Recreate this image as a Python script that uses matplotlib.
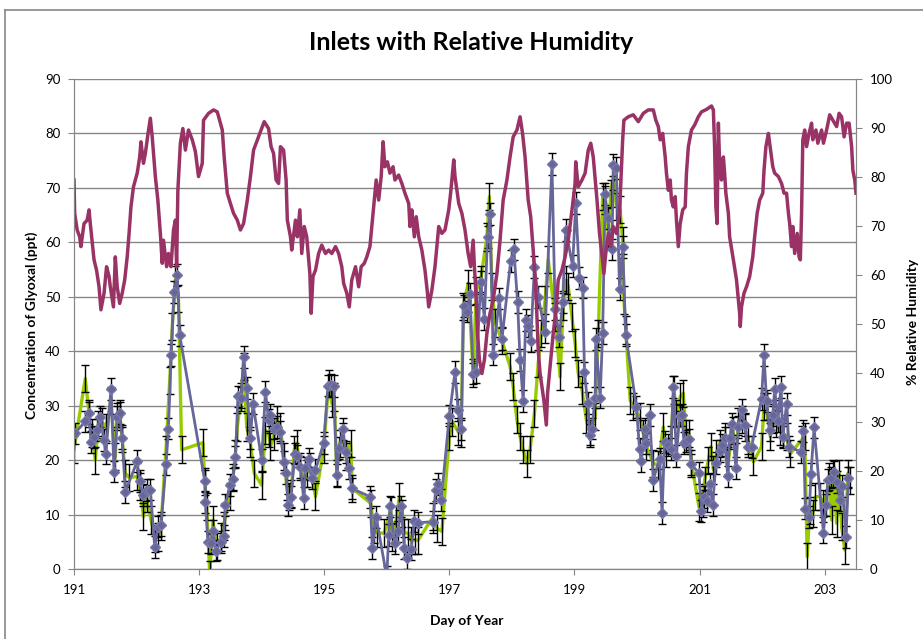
import matplotlib
matplotlib.use("Agg")
import matplotlib.pyplot as plt
from matplotlib.lines import Line2D

plt.rcParams["font.family"] = ["Lato", "DejaVu Sans"]

# % relative humidity (right axis)
rh_day = [191.00, 191.01, 191.05, 191.09, 191.11, 191.16, 191.21, 191.24, 191.26, 191.32,
          191.36, 191.40, 191.43, 191.48, 191.52, 191.56, 191.58, 191.63, 191.66, 191.69,
          191.73, 191.77, 191.81, 191.85, 191.88, 191.91, 191.95, 192.01, 192.05, 192.07,
          192.11, 192.14, 192.18, 192.22, 192.25, 192.30, 192.34, 192.38, 192.41, 192.43,
          192.48, 192.51, 192.55, 192.59, 192.62, 192.64, 192.66, 192.70, 192.74, 192.78,
          192.83, 192.89, 192.94, 192.99, 193.05, 193.07, 193.15, 193.23, 193.29, 193.37,
          193.40, 193.45, 193.50, 193.55, 193.61, 193.66, 193.71, 193.77, 193.82, 193.87,
          193.95, 194.04, 194.11, 194.15, 194.19, 194.23, 194.27, 194.30, 194.35, 194.39,
          194.41, 194.46, 194.48, 194.54, 194.57, 194.61, 194.64, 194.68, 194.72, 194.77,
          194.79, 194.82, 194.86, 194.91, 194.96, 195.02, 195.07, 195.12, 195.18, 195.23,
          195.28, 195.31, 195.36, 195.40, 195.44, 195.50, 195.55, 195.59, 195.64, 195.68,
          195.73, 195.76, 195.79, 195.83, 195.87, 195.91, 195.94, 195.97, 196.01, 196.05,
          196.10, 196.13, 196.19, 196.24, 196.29, 196.35, 196.37, 196.40, 196.44, 196.47,
          196.51, 196.56, 196.61, 196.65, 196.67, 196.72, 196.77, 196.83, 196.88, 196.93,
          196.99, 197.02, 197.07, 197.09, 197.15, 197.20, 197.25, 197.30, 197.34, 197.38,
          197.40, 197.43, 197.45, 197.48, 197.52, 197.56, 197.60, 197.65, 197.70, 197.76,
          197.81, 197.86, 197.92, 197.97, 198.02, 198.08, 198.13, 198.17, 198.21, 198.26,
          198.30, 198.34, 198.39, 198.42, 198.45, 198.48, 198.51, 198.55, 198.57, 198.61,
          198.66, 198.71, 198.74, 198.80, 198.85, 198.90, 198.96, 199.01, 199.02, 199.06,
          199.12, 199.17, 199.22, 199.26, 199.30, 199.36, 199.40, 199.43, 199.47, 199.50,
          199.54, 199.58, 199.62, 199.67, 199.72, 199.74, 199.77, 199.79, 199.86, 199.94,
          200.02, 200.10, 200.18, 200.26, 200.30, 200.34, 200.37, 200.41, 200.45, 200.47,
          200.50, 200.53, 200.55, 200.58, 200.61, 200.63, 200.66, 200.69, 200.73, 200.77,
          200.79, 200.82, 200.87, 200.92, 200.98, 201.03, 201.11, 201.19, 201.22, 201.24,
          201.26, 201.28, 201.30, 201.32, 201.35, 201.38, 201.40, 201.42, 201.46, 201.48,
          201.54, 201.59, 201.62, 201.64, 201.65, 201.67, 201.71, 201.75, 201.80, 201.85,
          201.88, 201.92, 201.96, 202.01, 202.03, 202.06, 202.10, 202.12, 202.17, 202.20,
          202.26, 202.31, 202.35, 202.39, 202.42, 202.44, 202.47, 202.49, 202.52, 202.56,
          202.59, 202.61, 202.63, 202.65, 202.68, 202.71, 202.75, 202.79, 202.81, 202.86,
          202.89, 202.95, 202.98, 203.03, 203.08, 203.13, 203.19, 203.23, 203.27, 203.31,
          203.35, 203.39, 203.43, 203.45, 203.48, 203.50]
rh_pct = [79.4, 72.6, 69.2, 67.8, 65.8, 70.5, 71.2, 73.3, 70.5, 63.1,
          61.0, 57.6, 52.9, 56.3, 61.7, 59.7, 57.6, 53.5, 63.7, 57.6,
          54.2, 56.3, 59.0, 63.7, 68.5, 73.9, 78.0, 80.8, 84.1, 87.2,
          82.8, 84.8, 88.6, 92.0, 88.2, 80.1, 75.3, 68.5, 62.4, 67.1,
          61.7, 64.4, 61.7, 69.2, 71.2, 61.7, 77.3, 86.9, 89.9, 85.5,
          89.6, 87.6, 85.2, 80.1, 82.8, 91.6, 93.0, 93.7, 93.3, 89.6,
          84.1, 76.7, 74.6, 72.6, 71.2, 69.2, 70.5, 75.3, 80.1, 85.5,
          88.2, 91.3, 89.9, 86.2, 84.8, 79.4, 78.7, 86.2, 85.5, 79.4,
          71.2, 67.8, 65.1, 71.2, 67.8, 73.3, 64.4, 69.9, 67.8, 60.3,
          52.2, 59.7, 61.0, 64.4, 66.1, 64.4, 65.1, 64.4, 65.8, 64.4,
          61.7, 58.3, 56.3, 53.5, 59.0, 61.7, 57.6, 61.7, 62.4, 63.7,
          65.8, 69.9, 73.9, 79.4, 75.3, 80.1, 87.2, 82.1, 83.1, 80.8,
          82.1, 79.4, 80.4, 78.7, 76.7, 74.6, 69.9, 73.3, 67.8, 71.9,
          67.8, 65.1, 61.0, 56.3, 53.5, 56.9, 61.7, 69.9, 68.5, 69.2,
          73.3, 76.7, 83.5, 80.1, 74.6, 72.6, 69.2, 64.4, 61.7, 67.1,
          61.7, 54.9, 48.1, 42.7, 39.9, 42.7, 48.1, 52.2, 54.9, 60.3,
          67.1, 75.3, 79.4, 84.1, 88.2, 89.6, 92.3, 88.9, 84.1, 75.3,
          71.9, 65.1, 54.9, 44.7, 39.9, 37.2, 34.5, 29.4, 35.9, 41.3,
          48.1, 53.5, 59.0, 61.0, 63.7, 67.1, 73.3, 78.7, 83.1, 78.0,
          79.4, 80.8, 85.5, 86.9, 84.1, 75.3, 68.5, 65.1, 60.3, 64.4,
          68.5, 65.8, 69.9, 68.5, 72.6, 78.7, 87.6, 91.6, 92.3, 92.7,
          91.3, 93.0, 93.7, 93.7, 91.6, 90.3, 87.6, 88.9, 84.1, 80.8,
          77.3, 79.4, 75.3, 73.9, 76.0, 71.2, 65.8, 70.5, 73.3, 73.9,
          80.8, 86.2, 89.6, 90.6, 92.3, 93.3, 93.8, 94.5, 93.7, 86.2,
          73.9, 70.5, 91.0, 82.8, 79.4, 84.1, 80.8, 76.7, 72.6, 67.8,
          63.1, 59.0, 54.9, 52.2, 49.5, 53.5, 56.3, 57.6, 59.7, 63.7,
          67.8, 72.6, 75.3, 76.7, 81.4, 86.2, 88.9, 86.9, 82.1, 80.8,
          80.1, 78.7, 76.7, 76.7, 72.6, 70.5, 65.8, 69.9, 64.4, 68.5,
          63.7, 63.1, 72.6, 87.6, 89.6, 86.2, 88.9, 91.0, 87.6, 89.6,
          86.9, 89.6, 86.9, 89.6, 92.7, 91.6, 90.3, 93.0, 92.3, 88.2,
          91.0, 91.0, 86.2, 81.4, 79.4, 76.7]

# glyoxal, inlet shown in green (left axis)
green_day = [191.00, 191.18, 191.24, 191.28, 191.34, 191.39, 191.45, 191.51, 191.59, 191.66,
             191.69, 191.73, 191.77, 191.82, 191.88, 192.01, 192.05, 192.11, 192.16, 192.23,
             192.30, 192.34, 192.39, 192.47, 192.53, 192.57, 192.62, 192.67, 192.72, 193.06,
             193.09, 193.12, 193.17, 193.22, 193.28, 193.35, 193.39, 193.42, 193.49, 193.54,
             193.58, 193.61, 193.67, 193.71, 193.76, 193.82, 193.88, 194.00, 194.06, 194.11,
             194.14, 194.19, 194.24, 194.30, 194.35, 194.40, 194.43, 194.47, 194.52, 194.56,
             194.62, 194.67, 194.72, 194.77, 194.86, 194.99, 195.07, 195.12, 195.16, 195.20,
             195.25, 195.30, 195.35, 195.42, 195.45, 195.74, 195.80, 195.85, 195.96, 196.06,
             196.09, 196.15, 196.20, 196.25, 196.28, 196.34, 196.39, 196.45, 196.50, 196.74,
             196.80, 196.88, 197.00, 197.05, 197.14, 197.19, 197.22, 197.30, 197.38, 197.43,
             197.50, 197.60, 197.64, 197.68, 197.73, 197.84, 197.97, 198.02, 198.08, 198.13,
             198.18, 198.24, 198.29, 198.36, 198.42, 198.47, 198.53, 198.58, 198.69, 198.77,
             198.82, 198.87, 198.90, 198.96, 199.01, 199.06, 199.12, 199.19, 199.25, 199.33,
             199.38, 199.45, 199.49, 199.54, 199.58, 199.62, 199.67, 199.73, 199.77, 199.79,
             199.82, 199.89, 199.94, 200.04, 200.10, 200.15, 200.26, 200.34, 200.42, 200.47,
             200.54, 200.59, 200.63, 200.69, 200.74, 200.78, 200.83, 200.87, 200.99, 201.05,
             201.08, 201.14, 201.18, 201.22, 201.27, 201.32, 201.40, 201.46, 201.53, 201.58,
             201.62, 201.67, 201.72, 201.78, 201.86, 201.99, 202.03, 202.07, 202.13, 202.17,
             202.22, 202.29, 202.34, 202.39, 202.45, 202.63, 202.68, 202.72, 202.76, 202.81,
             202.85, 202.92, 202.98, 203.03, 203.07, 203.11, 203.14, 203.19, 203.23, 203.27,
             203.32, 203.37, 203.41]
green_ppt = [22.0, 35.0, 28.6, 25.0, 20.0, 26.5, 27.0, 26.0, 31.0, 20.6,
             28.0, 28.6, 24.0, 17.6, 16.8, 17.0, 15.1, 9.6, 13.0, 9.0,
             5.6, 5.9, 7.9, 21.9, 34.7, 44.5, 53.1, 49.7, 21.9, 23.2,
             16.1, 11.5, -1.0, 9.0, 4.1, 5.9, 7.9, 9.6, 13.3, 16.8,
             21.2, 26.1, 31.6, 37.2, 26.1, 23.1, 17.6, 15.4, 25.5, 24.9,
             22.5, 24.3, 27.4, 26.1, 20.6, 15.1, 13.3, 13.9, 21.9, 23.1,
             18.8, 15.7, 17.6, 18.8, 13.3, 21.9, 34.1, 30.4, 31.6, 17.6,
             23.1, 24.3, 20.6, 23.1, 14.8, 12.1, 7.2, 6.6, 6.6, 10.8,
             5.9, 9.0, 13.3, 10.2, 6.6, 6.6, 5.3, 5.3, 5.3, 9.6,
             7.5, 6.9, 24.3, 27.0, 25.2, 24.9, 48.2, 52.5, 36.0, 51.2,
             53.1, 61.0, 68.4, 51.9, 45.2, 42.0, 37.2, 33.5, 27.4, 24.3,
             21.9, 19.4, 21.9, 28.6, 37.8, 43.3, 49.4, 56.8, 46.3, 35.3,
             48.2, 53.1, 51.9, 46.3, 41.5, 35.9, 32.9, 27.4, 24.9, 28.0,
             43.3, 68.4, 67.8, 61.7, 69.0, 72.1, 66.6, 66.0, 60.4, 49.4,
             43.9, 31.0, 29.8, 28.0, 24.9, 22.5, 19.4, 19.1, 26.1, 21.2,
             23.7, 32.9, 28.6, 31.6, 32.3, 24.9, 24.9, 19.4, 11.4, 12.1,
             16.3, 20.0, 22.5, 18.2, 21.2, 23.1, 24.3, 20.0, 25.5, 20.6,
             27.1, 27.4, 26.1, 23.7, 19.7, 22.5, 29.8, 29.8, 24.3, 27.4,
             26.8, 25.2, 24.9, 24.3, 21.2, 23.7, 24.3, 2.3, 10.8, 10.2,
             13.3, 13.3, 12.1, 13.9, 17.0, 9.0, 17.6, 8.4, 17.6, 7.8,
             3.5, 17.6, 16.3]
green_err = 2.5

# glyoxal, inlet shown in blue-grey diamonds (left axis)
blue_day = [191.01, 191.18, 191.24, 191.27, 191.32, 191.36, 191.42, 191.48, 191.51, 191.59,
            191.64, 191.69, 191.73, 191.77, 191.82, 192.01, 192.05, 192.10, 192.16, 192.22,
            192.29, 192.34, 192.39, 192.47, 192.51, 192.55, 192.60, 192.65, 192.69, 193.09,
            193.10, 193.14, 193.19, 193.22, 193.27, 193.35, 193.39, 193.42, 193.49, 193.54,
            193.58, 193.62, 193.67, 193.71, 193.76, 193.82, 193.86, 194.00, 194.06, 194.11,
            194.14, 194.19, 194.24, 194.30, 194.35, 194.39, 194.42, 194.47, 194.53, 194.56,
            194.62, 194.67, 194.70, 194.75, 194.80, 194.86, 194.99, 195.06, 195.11, 195.15,
            195.20, 195.24, 195.30, 195.34, 195.39, 195.44, 195.73, 195.77, 195.83, 196.00,
            196.03, 196.05, 196.13, 196.18, 196.23, 196.28, 196.33, 196.39, 196.44, 196.50,
            196.74, 196.78, 196.82, 196.87, 197.00, 197.09, 197.14, 197.19, 197.23, 197.28,
            197.33, 197.38, 197.43, 197.50, 197.56, 197.61, 197.65, 197.70, 197.80, 197.84,
            197.98, 198.03, 198.09, 198.13, 198.18, 198.22, 198.26, 198.30, 198.36, 198.42,
            198.53, 198.64, 198.69, 198.76, 198.81, 198.86, 198.97, 199.02, 199.08, 199.13,
            199.16, 199.21, 199.25, 199.28, 199.33, 199.34, 199.41, 199.45, 199.49, 199.53,
            199.60, 199.62, 199.67, 199.72, 199.77, 199.82, 199.99, 200.04, 200.07, 200.12,
            200.15, 200.20, 200.26, 200.36, 200.40, 200.44, 200.50, 200.54, 200.58, 200.63,
            200.68, 200.72, 200.75, 200.79, 200.83, 200.87, 200.99, 201.03, 201.07, 201.12,
            201.16, 201.21, 201.26, 201.32, 201.36, 201.40, 201.45, 201.48, 201.52, 201.58,
            201.62, 201.67, 201.72, 201.77, 201.83, 201.99, 202.03, 202.07, 202.12, 202.17,
            202.20, 202.25, 202.30, 202.33, 202.39, 202.43, 202.62, 202.66, 202.69, 202.75,
            202.78, 202.83, 202.98, 203.02, 203.06, 203.10, 203.15, 203.20, 203.24, 203.28,
            203.34, 203.38]
blue_ppt = [24.9, 27.1, 28.6, 23.4, 24.3, 25.5, 28.0, 23.7, 21.2, 33.0,
            17.9, 28.0, 28.6, 24.0, 14.2, 19.8, 16.2, 13.6, 14.5, 14.6,
            4.0, 7.8, 8.0, 19.2, 25.8, 39.3, 50.9, 54.0, 42.9, 16.2,
            12.3, 5.0, 4.7, 7.0, 3.4, 5.0, 6.1, 11.8, 15.4, 16.5,
            20.6, 31.7, 31.5, 39.0, 33.3, 24.1, 30.4, 20.0, 32.6, 27.4,
            28.3, 25.8, 26.1, 25.2, 19.7, 17.6, 11.8, 13.3, 21.2, 20.8,
            18.8, 13.0, 18.5, 20.3, 16.7, 18.2, 23.1, 33.7, 33.8, 33.6,
            17.3, 22.2, 25.7, 21.5, 18.6, 14.8, 13.3, 3.8, 9.5, -1.5,
            6.2, 11.5, 4.7, 6.9, 11.5, 3.8, 2.0, 3.6, 8.8, 8.5,
            8.7, 14.5, 15.6, 12.7, 28.2, 36.2, 29.2, 25.7, 48.3, 47.3,
            50.5, 35.9, 36.2, 52.8, 45.9, 61.0, 65.2, 39.4, 49.7, 42.2,
            56.6, 58.7, 49.1, 38.4, 30.9, 45.7, 44.7, 41.9, 55.5, 50.0,
            43.5, 74.4, 47.7, 42.7, 49.0, 62.3, 55.7, 67.2, 53.5, 51.7,
            36.1, 30.5, 24.7, 25.8, 31.5, 42.2, 31.5, 43.3, 68.9, 64.4,
            58.7, 74.2, 73.6, 51.4, 59.2, 43.0, 29.8, 22.0, 19.9, 25.8,
            23.1, 28.3, 16.4, 20.3, 10.3, 23.4, 22.8, 22.0, 33.4, 20.8,
            28.2, 28.3, 23.2, 23.5, 23.8, 19.2, 17.6, 10.7, 13.3, 12.5,
            15.7, 11.8, 19.5, 21.7, 22.8, 24.0, 17.0, 24.0, 26.6, 18.6,
            26.1, 29.3, 26.4, 22.5, 22.4, 31.2, 39.3, 30.9, 25.5, 28.3,
            33.1, 27.1, 33.5, 24.3, 30.3, 22.5, 21.5, 25.4, 11.1, 9.6,
            17.4, 26.0, 6.7, 11.8, 16.3, 16.8, 17.9, 16.0, 12.7, 15.2,
            5.9, 16.8]
blue_err = 2.0

x_ticks = [191, 193, 195, 197, 199, 201, 203]

GRAY = "#868686"
fig = plt.figure(figsize=(9.23, 6.39), dpi=100)
ax = fig.add_axes([0.0802, 0.1095, 0.8472, 0.7668])
ax2 = ax.twinx()

ax.plot(green_day, green_ppt, color="#99cc00", lw=2.4, zorder=2)
ax.errorbar(green_day, green_ppt, yerr=green_err, fmt="none", ecolor="black",
            elinewidth=1, capsize=2.6, capthick=1, zorder=3)
ax.errorbar(blue_day, blue_ppt, yerr=blue_err, fmt="none", ecolor="black",
            elinewidth=1, capsize=2.6, capthick=1, zorder=3)
ax.plot(blue_day, blue_ppt, color="#666699", lw=2, marker="D", markersize=5.5,
        markerfacecolor="#666699", markeredgecolor="#7777aa", zorder=4)

ax2.plot(rh_day, rh_pct, color="#993366", lw=2.5)

ax.set_xlim(191, 203.5)
ax.set_ylim(0, 90)
ax2.set_ylim(0, 100)
ax.set_xticks(x_ticks)
ax.set_yticks(range(0, 91, 10))
ax2.set_yticks(range(0, 101, 10))
ax.yaxis.grid(True, color=GRAY, lw=1)
ax.set_axisbelow(True)

for a in (ax, ax2):
    a.spines["top"].set_visible(False)
    for s in ("left", "right", "bottom"):
        a.spines[s].set_color(GRAY)
ax.tick_params(axis="y", direction="out", length=4, color=GRAY, labelsize=9.5, pad=6)
ax.tick_params(axis="x", direction="out", length=4, color=GRAY, labelsize=9.5, pad=7)
ax2.tick_params(axis="y", direction="out", length=4, color=GRAY, labelsize=9.5, pad=6)

fig.text(0.510, 0.934, "Inlets with Relative Humidity", ha="center", va="center",
         fontsize=18, fontweight="bold")
fig.text(32 / 923, 1 - 325 / 639, "Concentration of Glyoxal (ppt)", rotation=90,
         ha="center", va="center", fontsize=10, fontweight="bold")
fig.text(913 / 923, 1 - 322 / 639, "% Relative Humidity", rotation=90,
         ha="center", va="center", fontsize=10, fontweight="bold")
fig.text(467 / 923, 1 - 621 / 639, "Day of Year", ha="center", va="center",
         fontsize=10, fontweight="bold")

# chart area border (left and top edges visible in the crop)
fig.add_artist(Line2D([5 / 923, 5 / 923], [0, 1 - 10 / 639], color=GRAY, lw=1.2))
fig.add_artist(Line2D([5 / 923, 1], [1 - 10 / 639, 1 - 10 / 639], color=GRAY, lw=1.2))

fig.savefig("out.png", dpi=100)
